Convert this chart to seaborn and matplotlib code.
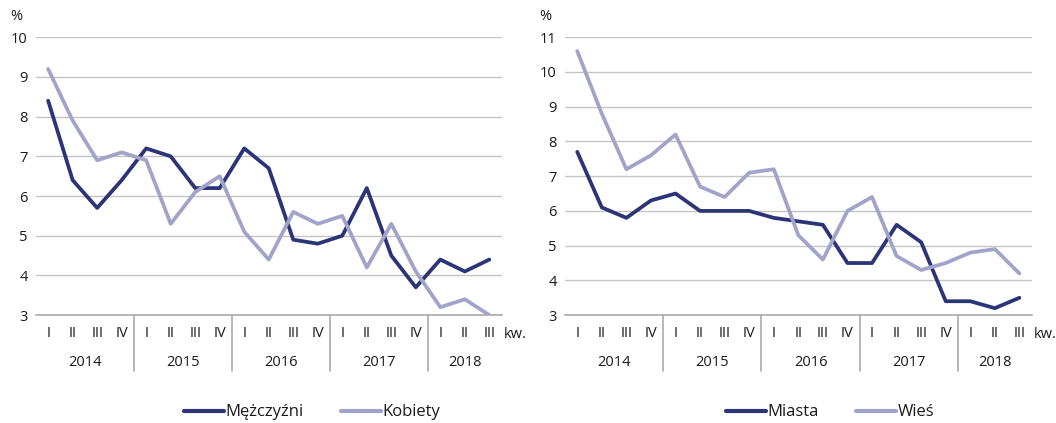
import pandas as pd
import numpy as np
import matplotlib
matplotlib.use('Agg')
import matplotlib.pyplot as plt
import matplotlib.transforms as mtransforms
import seaborn as sns

# quarters 2014 I - 2018 III
QUARTERS = ['I', 'II', 'III', 'IV'] * 4 + ['I', 'II', 'III']
YEARS    = ['2014', '2015', '2016', '2017', '2018']

men   = [8.4, 6.4, 5.7, 6.4, 7.2, 7.0, 6.2, 6.2, 7.2, 6.7,
         4.9, 4.8, 5.0, 6.2, 4.5, 3.7, 4.4, 4.1, 4.4]
women = [9.2, 7.9, 6.9, 7.1, 6.9, 5.3, 6.1, 6.5, 5.1, 4.4,
         5.6, 5.3, 5.5, 4.2, 5.3, 4.1, 3.2, 3.4, 3.0]
city  = [7.7, 6.1, 5.8, 6.3, 6.5, 6.0, 6.0, 6.0, 5.8, 5.7,
         5.6, 4.5, 4.5, 5.6, 5.1, 3.4, 3.4, 3.2, 3.5]
rural = [10.6, 8.8, 7.2, 7.6, 8.2, 6.7, 6.4, 7.1, 7.2, 5.3,
         4.6, 6.0, 6.4, 4.7, 4.3, 4.5, 4.8, 4.9, 4.2]

DARK  = '#2b3476'
LIGHT = '#a2a3c9'
GRID  = '#c4c4c4'
TXT   = '#1a1a1a'
FS    = 10.5

sns.set_style('white')
plt.rcParams['font.family'] = ['Open Sans', 'DejaVu Sans']


def panel(ax, series, ylim, leg_x):
    idx = np.arange(len(QUARTERS))
    df = pd.concat([pd.DataFrame({'x': idx, 'val': vals, 'grp': name})
                    for name, vals in series])
    sns.lineplot(data=df, x='x', y='val', hue='grp', ax=ax,
                 palette=[DARK, LIGHT], linewidth=2.7, legend=False)
    ax.set_xlim(-0.5, len(QUARTERS) - 0.5)
    ax.set_ylim(*ylim)
    ax.set_yticks(range(ylim[0], ylim[1] + 1))
    ax.yaxis.grid(True, color=GRID, lw=1)
    ax.set_axisbelow(True)
    for s in ['top', 'right', 'left']:
        ax.spines[s].set_visible(False)
    ax.spines['bottom'].set_color('#aaaaaa')
    ax.spines['bottom'].set_linewidth(1.2)
    ax.set_xticks(idx)
    ax.set_xticklabels(QUARTERS)
    ax.tick_params(axis='both', length=0, labelsize=FS, colors=TXT)
    ax.tick_params(axis='x', pad=8)
    ax.tick_params(axis='y', pad=6)
    ax.set_xlabel(''); ax.set_ylabel('')

    tr = mtransforms.blended_transform_factory(ax.transData, ax.transAxes)
    for b in [3.5, 7.5, 11.5, 15.5]:
        ax.plot([b, b], [0, -0.2], transform=tr, color='#aaaaaa',
                lw=1.2, clip_on=False)
    for i, y in enumerate(YEARS):
        start = i * 4 - 0.5
        end = min(start + 4, len(QUARTERS) - 0.5)
        ax.text((start + end) / 2, -0.17, y, transform=tr, ha='center',
                va='center', fontsize=FS, color=TXT)
    ax.text(len(QUARTERS) - 0.5 + 0.1, -0.068, 'kw.', transform=tr,
            ha='left', va='center', fontsize=FS, color=TXT)
    ax.text(-0.03, 1.075, '%', transform=ax.transAxes, ha='right',
            va='center', fontsize=FS, color=TXT)

    handles = [plt.Line2D([], [], color=c, lw=3) for c in [DARK, LIGHT]]
    ax.legend(handles, [n for n, _ in series], loc='center',
              bbox_to_anchor=(leg_x, -0.35), ncol=2, frameon=False,
              fontsize=12, handlelength=2.4, handletextpad=0.1,
              columnspacing=2.2, borderpad=0.2, labelcolor=TXT)


fig = plt.figure(figsize=(10.56, 4.23), dpi=100)
ax1 = fig.add_axes([0.034, 0.255, 0.441, 0.657])
ax2 = fig.add_axes([0.535, 0.255, 0.442, 0.657])

panel(ax1, [('Mężczyźni', men), ('Kobiety', women)], (3, 10), 0.593)
panel(ax2, [('Miasta', city), ('Wieś', rural)], (3, 11), 0.568)

plt.savefig('out.png', dpi=100)
plt.close()
